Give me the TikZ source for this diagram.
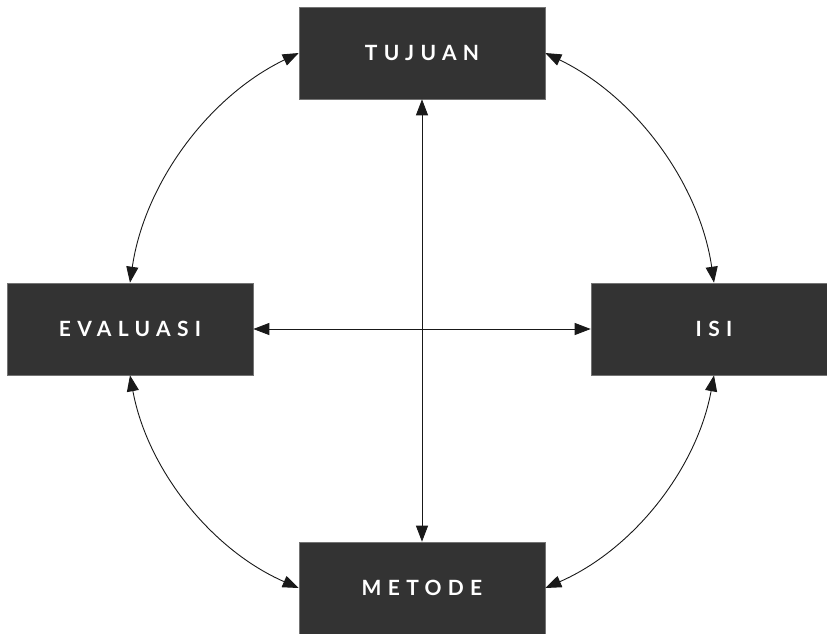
\documentclass[tikz,border=0pt]{standalone}
\usepackage{fontspec}
\setmainfont{Lato}
\usetikzlibrary{arrows.meta}
\begin{document}
\begin{tikzpicture}[x=1pt,y=-1pt,
  box/.style={draw=black!55,line width=0.6pt,fill=black!80,text=white,
    minimum width=246pt,minimum height=92pt,inner sep=0pt,
    font=\fontsize{21}{24}\selectfont\bfseries\addfontfeature{LetterSpace=30}},
  link/.style={draw=black!90,line width=0.9pt,
    {Triangle[length=16pt,width=12pt]}-{Triangle[length=16pt,width=12pt]}},
  arc/.style={link,looseness=0.9}]
\useasboundingbox (0,0) rectangle (827,633);
\clip (0,0) rectangle (827,633);
\node[box] (tujuan) at (422,53) {TUJUAN};
\node[box] (evaluasi) at (130,329) {EVALUASI};
\node[box] (isi) at (714,329) {ISI};
\node[box] (metode) at (422,588) {METODE};
\draw[link] (tujuan.south) -- (metode.north);
\draw[link] (evaluasi.east) -- (isi.west);
\draw[arc] (tujuan.west) to[bend right=28] (evaluasi.north);
\draw[arc] (tujuan.east) to[bend left=28] (isi.north);
\draw[arc] (evaluasi.south) to[bend right=28] (metode.west);
\draw[arc] (isi.south) to[bend left=28] (metode.east);
\end{tikzpicture}
\end{document}
